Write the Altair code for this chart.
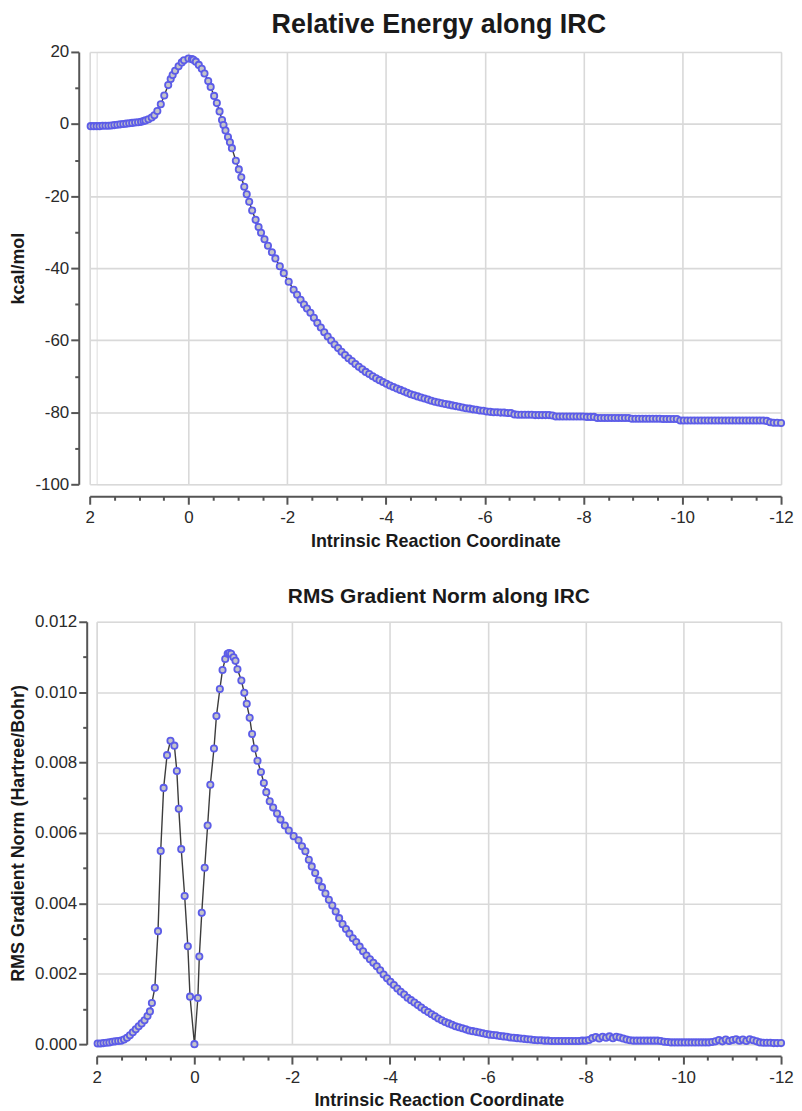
import altair as alt
import pandas as pd

FONT = "Liberation Sans"

# ---- IRC data ----
# forward side (2 -> 0)
irc_fwd = [1.98, 1.92, 1.86, 1.80, 1.74, 1.68, 1.62, 1.56, 1.50, 1.44,
           1.38, 1.32, 1.26, 1.20, 1.14, 1.08, 1.02, 0.96, 0.91, 0.87,
           0.81, 0.745, 0.69, 0.63, 0.56, 0.49, 0.41, 0.36, 0.32, 0.27,
           0.20, 0.135, 0.09, 0.00]
energy_fwd = [-0.6, -0.6, -0.6, -0.6, -0.5, -0.5, -0.5, -0.4, -0.3, -0.2,
              -0.1, 0.0, 0.1, 0.2, 0.3, 0.4, 0.5, 0.6, 0.8, 1.0,
              1.3, 1.8, 2.4, 3.6, 5.5, 7.9, 10.8, 12.5, 13.6, 14.8,
              16.0, 17.1, 17.7, 18.2]
grad_fwd = [0.00002, 0.00002, 0.00003, 0.00004, 0.00005, 0.00007, 0.00008, 0.00009, 0.00010, 0.00013,
            0.00018, 0.00025, 0.00034, 0.00042, 0.00051, 0.00059, 0.00068, 0.00080, 0.00093, 0.00117,
            0.00160, 0.00321, 0.00549, 0.00728, 0.00821, 0.00862, 0.00848, 0.00776, 0.00669, 0.00554,
            0.00421, 0.00278, 0.00135, 0.00000]

# reverse side near the transition state (0 -> -2.5)
irc_rev = [-0.07, -0.10, -0.15, -0.21, -0.27, -0.325, -0.40, -0.45, -0.52, -0.575,
           -0.63, -0.68, -0.71, -0.75, -0.80, -0.84, -0.88, -0.96, -1.02, -1.07,
           -1.13, -1.18, -1.23, -1.29, -1.36, -1.42, -1.47, -1.54, -1.61, -1.69,
           -1.76, -1.85, -1.93, -2.03, -2.13, -2.20, -2.27, -2.34, -2.40, -2.47]
energy_rev = [18.0, 17.8, 17.3, 16.4, 15.3, 14.0, 11.9, 10.3, 7.8, 5.8,
              3.5, 1.1, -0.3, -1.8, -3.6, -5.1, -6.7, -10.2, -12.6, -14.8,
              -17.4, -19.5, -21.6, -24.0, -26.6, -28.6, -30.2, -32.0, -33.8, -35.6,
              -37.3, -39.5, -41.4, -43.8, -46.0, -47.4, -48.8, -50.1, -51.2, -52.4]
grad_rev = [0.00131, 0.00249, 0.00373, 0.00501, 0.00621, 0.00737, 0.00840, 0.00932, 0.01009, 0.01063,
            0.01094, 0.01109, 0.01111, 0.01109, 0.01099, 0.01089, 0.01065, 0.01033, 0.00998, 0.00967,
            0.00927, 0.00881, 0.00840, 0.00805, 0.00773, 0.00742, 0.00716, 0.00690, 0.00672, 0.00655,
            0.00638, 0.00621, 0.00607, 0.00591, 0.00579, 0.00562, 0.00548, 0.00524, 0.00505, 0.00486]

# reverse side tail (-2.5 -> -12)
irc_tail = [-2.54, -2.61, -2.68, -2.75, -2.82, -2.89, -2.96, -3.03, -3.10, -3.17,
            -3.24, -3.31, -3.38, -3.45, -3.52, -3.59, -3.66, -3.73, -3.80, -3.87,
            -3.94, -4.01, -4.08, -4.15, -4.22, -4.29, -4.36, -4.43, -4.50, -4.57,
            -4.64, -4.71, -4.78, -4.85, -4.92, -4.99, -5.06, -5.13, -5.20, -5.27,
            -5.34, -5.41, -5.48, -5.55, -5.62, -5.69, -5.76, -5.83, -5.90, -5.97,
            -6.04, -6.11, -6.18, -6.25, -6.32, -6.39, -6.46, -6.53, -6.60, -6.67,
            -6.74, -6.81, -6.88, -6.95, -7.02, -7.09, -7.16, -7.23, -7.30, -7.37,
            -7.44, -7.51, -7.58, -7.65, -7.72, -7.79, -7.86, -7.93, -8.00, -8.07,
            -8.14, -8.21, -8.28, -8.35, -8.42, -8.49, -8.56, -8.63, -8.70, -8.77,
            -8.84, -8.91, -8.98, -9.05, -9.12, -9.19, -9.26, -9.33, -9.40, -9.47,
            -9.54, -9.61, -9.68, -9.75, -9.82, -9.89, -9.96, -10.03, -10.10, -10.17,
            -10.24, -10.31, -10.38, -10.45, -10.52, -10.59, -10.66, -10.73, -10.80, -10.87,
            -10.94, -11.01, -11.08, -11.15, -11.22, -11.29, -11.36, -11.43, -11.50, -11.57,
            -11.64, -11.71, -11.78, -11.85, -11.92, -12.00]
energy_tail = [-53.8, -55.2, -56.5, -57.8, -59.0, -60.1, -61.2, -62.2, -63.2, -64.1,
               -65.0, -65.8, -66.6, -67.4, -68.1, -68.8, -69.4, -70.0, -70.6, -71.1,
               -71.6, -72.1, -72.6, -73.0, -73.4, -73.8, -74.2, -74.6, -75.0, -75.3,
               -75.6, -75.9, -76.2, -76.5, -76.8, -77.1, -77.3, -77.5, -77.7, -77.9,
               -78.1, -78.3, -78.5, -78.7, -78.9, -79.0, -79.2, -79.3, -79.5, -79.6,
               -79.8, -79.9, -80.0, -80.0, -80.1, -80.1, -80.2, -80.2, -80.6, -80.7,
               -80.7, -80.7, -80.7, -80.7, -80.8, -80.8, -80.8, -80.8, -80.8, -80.9,
               -81.2, -81.2, -81.2, -81.2, -81.2, -81.2, -81.2, -81.2, -81.2, -81.3,
               -81.3, -81.3, -81.6, -81.6, -81.6, -81.6, -81.6, -81.6, -81.6, -81.6,
               -81.6, -81.6, -81.8, -81.8, -81.8, -81.8, -81.8, -81.8, -81.8, -81.8,
               -81.8, -81.9, -81.9, -81.9, -81.9, -81.9, -82.3, -82.3, -82.3, -82.3,
               -82.3, -82.3, -82.3, -82.3, -82.3, -82.3, -82.3, -82.3, -82.3, -82.3,
               -82.3, -82.3, -82.3, -82.3, -82.3, -82.3, -82.3, -82.3, -82.3, -82.3,
               -82.3, -82.4, -82.8, -82.9, -82.9, -83.0]
grad_tail = [0.00465, 0.00446, 0.00428, 0.00410, 0.00394, 0.00377, 0.00358, 0.00341, 0.00327, 0.00314,
             0.00301, 0.00290, 0.00277, 0.00264, 0.00252, 0.00241, 0.00231, 0.00221, 0.00210, 0.00198,
             0.00187, 0.00177, 0.00168, 0.00158, 0.00149, 0.00141, 0.00132, 0.00125, 0.00118, 0.00111,
             0.00104, 0.00097, 0.00091, 0.00085, 0.00079, 0.00073, 0.00068, 0.00063, 0.00059, 0.00055,
             0.00051, 0.00048, 0.00045, 0.00042, 0.00039, 0.00037, 0.00035, 0.00033, 0.00031, 0.00029,
             0.00027, 0.00026, 0.00025, 0.00023, 0.00022, 0.00021, 0.00019, 0.00018, 0.00017, 0.00016,
             0.00015, 0.00014, 0.00013, 0.00012, 0.00011, 0.00011, 0.00010, 0.00010, 0.00009, 0.00009,
             0.00009, 0.00009, 0.00009, 0.00009, 0.00009, 0.00009, 0.00009, 0.00010, 0.00010, 0.00012,
             0.00017, 0.00020, 0.00016, 0.00021, 0.00018, 0.00022, 0.00017, 0.00021, 0.00019, 0.00016,
             0.00013, 0.00011, 0.00010, 0.00010, 0.00010, 0.00010, 0.00010, 0.00010, 0.00010, 0.00010,
             0.00009, 0.00007, 0.00006, 0.00005, 0.00005, 0.00005, 0.00005, 0.00005, 0.00005, 0.00005,
             0.00005, 0.00005, 0.00005, 0.00005, 0.00005, 0.00006, 0.00008, 0.00012, 0.00008, 0.00013,
             0.00009, 0.00012, 0.00014, 0.00010, 0.00013, 0.00009, 0.00014, 0.00011, 0.00008, 0.00005,
             0.00004, 0.00004, 0.00004, 0.00003, 0.00003, 0.00003]

# axis tick positions (major + minor)
x_ticks = [2, 1.5, 1, 0.5, 0, -0.5, -1, -1.5, -2, -2.5, -3, -3.5, -4, -4.5, -5,
           -5.5, -6, -6.5, -7, -7.5, -8, -8.5, -9, -9.5, -10, -10.5, -11, -11.5, -12]
energy_ticks = [20, 10, 0, -10, -20, -30, -40, -50, -60, -70, -80, -90, -100]
grad_ticks = [0.0, 0.001, 0.002, 0.003, 0.004, 0.005, 0.006, 0.007, 0.008,
              0.009, 0.010, 0.011, 0.012]

df = pd.DataFrame({
    "irc": irc_fwd + irc_rev + irc_tail,
    "energy": energy_fwd + energy_rev + energy_tail,
    "grad": grad_fwd + grad_rev + grad_tail,
})

AXIS_COL = "#555555"
GRID_COL = "#d9d9d9"
LABEL_COL = "#2a2a2a"


def make_axis(values, major_test, label_expr, title, offset, label_pad, title_pad):
    return alt.Axis(
        values=values,
        labelExpr=label_expr,
        title=title,
        offset=offset,
        grid=True,
        gridColor=GRID_COL,
        gridWidth=1.6,
        gridOpacity={"condition": {"test": major_test, "value": 1}, "value": 0},
        domainColor=AXIS_COL,
        domainWidth=2,
        tickColor=AXIS_COL,
        tickWidth=2,
        tickSize={"condition": {"test": major_test, "value": 8}, "value": 4},
        labelFont=FONT,
        labelFontSize=17,
        labelColor=LABEL_COL,
        labelPadding=label_pad,
        labelOverlap=False,
        labelFlush=False,
        titleFont=FONT,
        titleFontSize=18,
        titleFontWeight="bold",
        titleColor="#1a1a1a",
        titlePadding=title_pad,
    )


# the top panel's plot starts 7px further left than the lower one's
x_top = alt.X(
    "irc:Q",
    scale=alt.Scale(domain=[2, -12], range=[-7, 687], nice=False, zero=False),
    axis=make_axis(x_ticks, "datum.value % 2 === 0",
                   "datum.value % 2 === 0 ? '' + datum.value : ''",
                   "Intrinsic Reaction Coordinate", 12, 5, 7),
)
x_bot = alt.X(
    "irc:Q",
    scale=alt.Scale(domain=[2, -12], nice=False, zero=False),
    axis=make_axis(x_ticks, "datum.value % 2 === 0",
                   "datum.value % 2 === 0 ? '' + datum.value : ''",
                   "Intrinsic Reaction Coordinate", 12, 5, 7),
)
y_energy = alt.Y(
    "energy:Q",
    scale=alt.Scale(domain=[-100, 20], nice=False, zero=False),
    axis=make_axis(energy_ticks, "datum.value % 20 === 0",
                   "datum.value % 20 === 0 ? '' + datum.value : ''",
                   "kcal/mol", 18, 2, 7),
)
y_grad = alt.Y(
    "grad:Q",
    scale=alt.Scale(domain=[0, 0.012], nice=False, zero=False),
    axis=make_axis(grad_ticks, "round(datum.value * 1000) % 2 === 0",
                   "round(datum.value * 1000) % 2 === 0 ? format(datum.value, '.3f') : ''",
                   "RMS Gradient Norm (Hartree/Bohr)", 10, 2, 7),
)

POINT = dict(shape="circle", size=40, filled=True, fill="#c4c4c8",
             stroke="#5c5ce8", strokeWidth=1.8, opacity=1)

base = alt.Chart(df)

top = alt.layer(
    base.mark_line(color="#3c3c3c", strokeWidth=1.4).encode(x=x_top, y=y_energy),
    base.mark_point(**POINT).encode(x=x_top, y=y_energy),
).properties(
    width=687, height=434,
    title=alt.TitleParams("Relative Energy along IRC", font=FONT, fontSize=27,
                          fontWeight="bold", color="#1a1a1a", frame="group",
                          anchor="middle", offset=4),
)

bottom = alt.layer(
    base.mark_line(color="#3c3c3c", strokeWidth=1.4).encode(x=x_bot, y=y_grad),
    base.mark_point(**POINT).encode(x=x_bot, y=y_grad),
).properties(
    width=687, height=424,
    title=alt.TitleParams("RMS Gradient Norm along IRC", font=FONT, fontSize=21,
                          fontWeight="bold", color="#1a1a1a", frame="group",
                          anchor="middle", offset=6),
)

chart = alt.concat(top, bottom, columns=1, spacing=34).properties(
    padding={"left": 0, "top": 0, "right": 0, "bottom": 0},
).configure_view(stroke=None).configure(background="white")

chart.save("out.html", embed_options={"renderer": "svg", "actions": False})
